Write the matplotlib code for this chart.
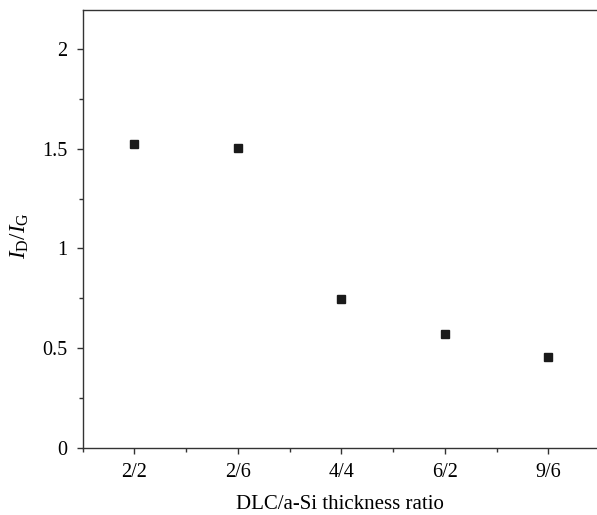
import numpy as np
import matplotlib.pyplot as plt
from matplotlib.ticker import MultipleLocator

plt.rcParams['font.family'] = 'Liberation Serif'
plt.rcParams['mathtext.fontset'] = 'custom'
plt.rcParams['mathtext.rm'] = 'Liberation Serif'
plt.rcParams['mathtext.it'] = 'Liberation Serif:italic'

ratios = ['2/2', '2/6', '4/4', '6/2', '9/6']
id_ig = [1.522, 1.505, 0.745, 0.571, 0.458]

fig = plt.figure(figsize=(5.97, 5.15), dpi=100)
ax = fig.add_axes([0.1385, 0.1301, 1.0 - 0.1385, 0.8505])

x = np.arange(len(ratios))
ax.plot(x, id_ig, 's', color='#1a1a1a', markersize=6, linestyle='none')

ax.set_xlim(-0.5, 4.47)
ax.set_ylim(0, 2.195)
ax.set_xticks(x)
ax.set_xticklabels(ratios)
ax.xaxis.set_minor_locator(MultipleLocator(1, offset=0.5))
ax.set_yticks([0, 0.5, 1, 1.5, 2])
ax.set_yticklabels(['0', '0.5', '1', '1.5', '2'])
ax.yaxis.set_minor_locator(MultipleLocator(0.25))

for s in ['left', 'bottom', 'top']:
    ax.spines[s].set_color('#333333')
    ax.spines[s].set_linewidth(1.0)
ax.spines['right'].set_visible(False)

ax.tick_params(which='major', direction='out', length=4, width=1, color='#333333',
               labelsize=14.5, pad=7)
ax.tick_params(which='minor', direction='out', length=3, width=1, color='#333333')

ax.set_xlabel('DLC/a-Si thickness ratio', fontsize=15, labelpad=9)
ax.set_ylabel(r'$I_{\mathrm{D}}/I_{\mathrm{G}}$', fontsize=16.5)
ax.yaxis.set_label_coords(-0.100, 0.486)

fig.savefig('out.png', dpi=100)
